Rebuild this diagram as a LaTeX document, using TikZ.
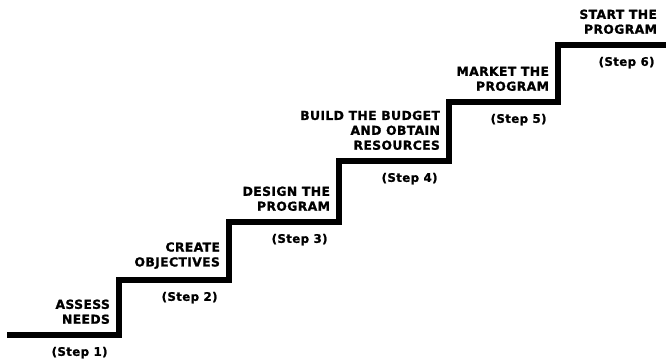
\documentclass[tikz,border=0pt]{standalone}
\usepackage{fontspec}
\usepackage{tikz}
\usetikzlibrary{positioning}
\newfontfamily\stairfont{DejaVu Sans}[BoldFeatures={FakeBold=1.2, LetterSpace=3}]
\tikzset{
    stair/.style={line width=4pt, line join=miter},
    steptext/.style={align=right, inner sep=0pt, font=\stairfont\bfseries\fontsize{8.8}{10.6}\selectfont},
    steptag/.style={inner sep=0pt, font=\stairfont\bfseries\fontsize{8.4}{10}\selectfont}
}

\begin{document}
\begin{tikzpicture}
    \useasboundingbox (0,0) rectangle (16.65,9.1);

    % ---------- corners of the stairs ----------
    \coordinate (s0) at (0.175,0.725);
    \coordinate (b1) at (2.975,0.725);
    \coordinate (t1) at (2.975,2.1);
    \coordinate (b2) at (5.725,2.1);
    \coordinate (t2) at (5.725,3.55);
    \coordinate (b3) at (8.475,3.55);
    \coordinate (t3) at (8.475,5.075);
    \coordinate (b4) at (11.225,5.075);
    \coordinate (t4) at (11.225,6.55);
    \coordinate (b5) at (13.95,6.55);
    \coordinate (t5) at (13.95,7.975);
    \coordinate (e6) at (16.65,7.975);

    \draw[stair] (s0) -- (b1) -- (t1) -- (b2) -- (t2) -- (b3) -- (t3)
        -- (b4) -- (t4) -- (b5) -- (t5) -- (e6);

    % ---------- what is done on each step ----------
    \node[steptext, above left=0.27cm and 0.22cm of b1] (n1) {ASSESS\\NEEDS};
    \node[steptext, above left=0.27cm and 0.22cm of b2] (n2) {CREATE\\OBJECTIVES};
    \node[steptext, above left=0.27cm and 0.22cm of b3] (n3) {DESIGN THE\\PROGRAM};
    \node[steptext, above left=0.27cm and 0.22cm of b4] (n4) {BUILD THE BUDGET\\AND OBTAIN\\RESOURCES};
    \node[steptext, above left=0.27cm and 0.22cm of b5] (n5) {MARKET THE\\PROGRAM};
    \node[steptext, above left=0.27cm and 0.22cm of e6] (n6) {START THE\\PROGRAM};

    % ---------- step numbers ----------
    \node[steptag, below left=0.29cm and 0.28cm of b1] (m1) {(Step 1)};
    \node[steptag, below left=0.29cm and 0.28cm of b2] (m2) {(Step 2)};
    \node[steptag, below left=0.29cm and 0.28cm of b3] (m3) {(Step 3)};
    \node[steptag, below left=0.29cm and 0.28cm of b4] (m4) {(Step 4)};
    \node[steptag, below left=0.29cm and 0.28cm of b5] (m5) {(Step 5)};
    \node[steptag, below left=0.29cm and 0.28cm of e6] (m6) {(Step 6)};
\end{tikzpicture}
\end{document}
